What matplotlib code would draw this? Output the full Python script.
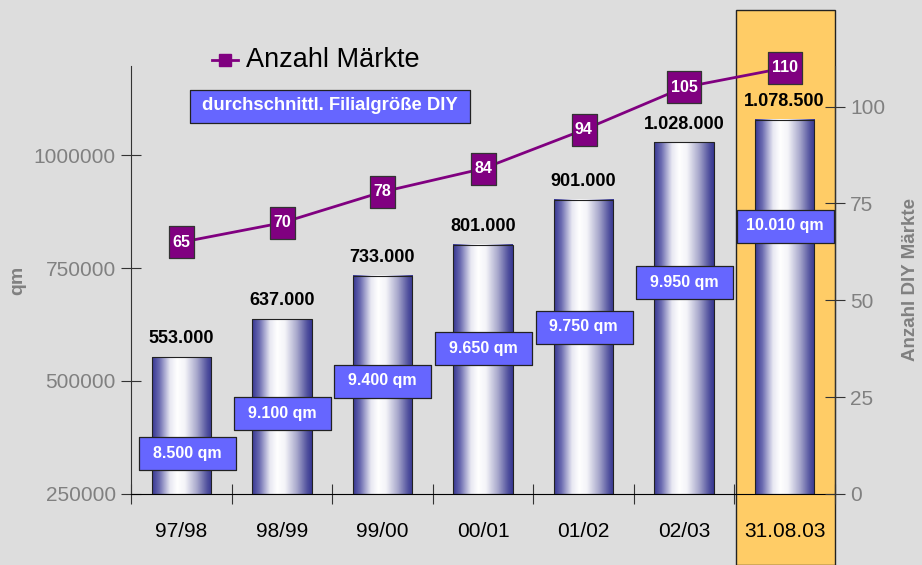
import numpy as np
import matplotlib.pyplot as plt
from matplotlib.colors import LinearSegmentedColormap
from matplotlib.patches import Rectangle
from matplotlib.lines import Line2D
from matplotlib.path import Path

plt.rcParams['font.family'] = ['Liberation Sans', 'DejaVu Sans']

# data
kategorien = ['97/98', '98/99', '99/00', '00/01', '01/02', '02/03', '31.08.03']
verkaufsflaeche = [553000, 637000, 733000, 801000, 901000, 1028000, 1078500]
flaechen_labels = ['553.000', '637.000', '733.000', '801.000', '901.000', '1.028.000', '1.078.500']
anzahl_maerkte = [65, 70, 78, 84, 94, 105, 110]
filialgroesse = ['8.500 qm', '9.100 qm', '9.400 qm', '9.650 qm', '9.750 qm', '9.950 qm', '10.010 qm']
y_ticks = [250000, 500000, 750000, 1000000]
y2_ticks = [0, 25, 50, 75, 100]

# where the blue size boxes sit (left axis units)
box_y = [340000, 429000, 500000, 573000, 620000, 719000, 843000]

bg = '#dddddd'
grau = '#808080'
lila = '#800080'
blau = '#6666ff'


def rect_marker(w, h):
    '''rectangle marker with w:h aspect, size given by the longer side'''
    return Path([(-w / 2, -h / 2), (w / 2, -h / 2), (w / 2, h / 2), (-w / 2, h / 2), (-w / 2, -h / 2)],
                closed=True)


fig = plt.figure(figsize=(9.22, 5.65), dpi=100, facecolor=bg)
ax = fig.add_axes([0.1421, 0.1257, 0.7635, 0.7575])
ax.set_facecolor('none')
ax2 = ax.twinx()

x = np.arange(len(kategorien))

# highlight column for the last period (behind everything)
hl = Rectangle((735.5 / 922, 0), 99.5 / 922, 555 / 565, transform=fig.transFigure,
               facecolor='#ffcc66', edgecolor='#222222', lw=1.0, zorder=-5)
fig.patches.append(hl)

# cylinder bars with gradient
cmap = LinearSegmentedColormap.from_list('zyl', [
    (0.0, '#363692'), (0.12, '#6a6ab0'), (0.3, '#e8e8f2'), (0.42, '#ffffff'),
    (0.55, '#f4f4f8'), (0.75, '#a8a8cc'), (0.92, '#52529e'), (1.0, '#363692')])
grad = np.linspace(0, 1, 256).reshape(1, -1)
w = 0.59
for xi, v in zip(x, verkaufsflaeche):
    ext = (xi - w / 2, xi + w / 2, 250000, v)
    ax.imshow(grad, cmap=cmap, aspect='auto', extent=ext, zorder=2, interpolation='bilinear')
    ax.add_patch(Rectangle((xi - w / 2, 250000), w, v - 250000, fill=False,
                           edgecolor='#222222', lw=0.8, zorder=3))
    ax.annotate(flaechen_labels[xi], (xi, v), xytext=(0, 7), textcoords='offset points',
                ha='center', va='bottom', fontsize=13, fontweight='bold', color='black', zorder=6)

ax.set_xlim(-0.5, len(kategorien) - 0.5)
ax.set_ylim(250000, 1197000)
ax2.set_ylim(0, 110.5)

# blue size boxes (fixed size)
bx = x + np.where(x == 0, 0.06, 0.0)
ax.plot(bx, box_y, lw=0, marker=rect_marker(97, 33), markersize=97 * 0.72,
        markerfacecolor=blau, markeredgecolor='#222222', markeredgewidth=0.9, zorder=6)
for xi, lab, yb in zip(bx, filialgroesse, box_y):
    ax.text(xi, yb, lab, ha='center', va='center', fontsize=11.5, fontweight='bold',
            color='white', zorder=7)

# number of stores line
ax2.plot(x, anzahl_maerkte, color=lila, lw=2, zorder=4, clip_on=False)
for xi, n in zip(x, anzahl_maerkte):
    bw = 9 * len(str(n)) + 7
    ax2.plot([xi], [n], lw=0, marker=rect_marker(bw, 32), markersize=max(bw, 32) * 0.72,
             markerfacecolor=lila, markeredgecolor='#333333', markeredgewidth=0.9, zorder=5,
             clip_on=False)
    ax2.text(xi, n, str(n), ha='center', va='center', fontsize=11.5, fontweight='bold',
             color='white', zorder=8, clip_on=False)

# axes styling
for a in (ax, ax2):
    a.spines['top'].set_visible(False)
ax.spines['right'].set_visible(False)
ax2.spines['left'].set_visible(False)
ax2.spines['bottom'].set_visible(False)
ax.spines['left'].set_color('#333333')
ax.spines['bottom'].set_color('#000000')
ax2.spines['right'].set_color('#333333')

ax.set_yticks(y_ticks)
ax.set_yticklabels([str(t) for t in y_ticks])
ax.tick_params(axis='y', direction='inout', length=14, colors='#333333', labelcolor=grau,
               labelsize=15, pad=4)
ax2.set_yticks(y2_ticks)
ax2.set_yticklabels([str(t) for t in y2_ticks])
ax2.tick_params(axis='y', direction='inout', length=14, colors='#333333', labelcolor=grau,
                labelsize=15, pad=4)

ax.set_xticks(np.arange(len(kategorien) + 1) - 0.5)
ax.set_xticklabels([])
ax.tick_params(axis='x', which='major', direction='inout', length=14, colors='#333333')
ax.set_xticks(x, minor=True)
ax.set_xticklabels(kategorien, minor=True)
ax.tick_params(axis='x', which='minor', length=0, labelsize=15, labelcolor='black', pad=20)

ax.set_ylabel('qm', fontsize=14, fontweight='bold', color=grau, labelpad=5)
ax2.set_ylabel('Anzahl DIY Märkte', fontsize=13.5, fontweight='bold', color=grau, labelpad=12)

# legend
ly = 1 - 60 / 565
fig.add_artist(Line2D([212 / 922, 238 / 922], [ly, ly], color=lila, lw=2,
                      transform=fig.transFigure))
fig.add_artist(Line2D([225 / 922], [ly], color=lila, marker='s', markersize=8,
                      lw=0, transform=fig.transFigure))
fig.text(246 / 922, ly, 'Anzahl Märkte', fontsize=19.5, color='black',
         ha='left', va='center')
fig.add_artist(Line2D([330 / 922], [1 - 105.5 / 565], lw=0, marker=rect_marker(280, 33),
                      markersize=280 * 0.72, markerfacecolor=blau, markeredgecolor='#222222',
                      markeredgewidth=0.9, transform=fig.transFigure))
fig.text(330 / 922, 1 - 106 / 565, 'durchschnittl. Filialgröße DIY', fontsize=13.3,
         fontweight='bold', color='white', ha='center', va='center')

fig.savefig('out.png', dpi=100, facecolor=bg)
